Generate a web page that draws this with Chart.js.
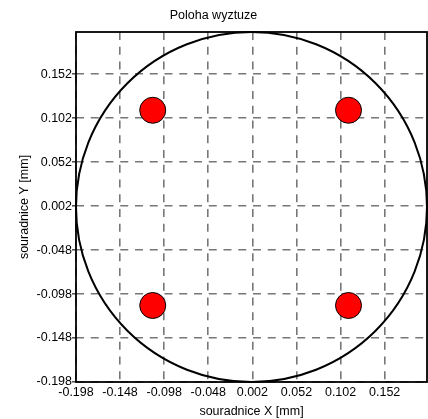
<!DOCTYPE html>
<html>
<head>
<meta charset="utf-8">
<script src="https://cdn.jsdelivr.net/npm/chart.js@4"></script>
<style>
    html, body { margin: 0; padding: 0; background: #fff; }
    #wrap { width: 428px; height: 419px; }
</style>
</head>
<body>
<div id="wrap"><canvas id="chart"></canvas></div>
<script>
// osy
const xTicks = [-0.198, -0.148, -0.098, -0.048, 0.002, 0.052, 0.102, 0.152];
const yTicks = [-0.198, -0.148, -0.098, -0.048, 0.002, 0.052, 0.102, 0.152];
const axisMin = -0.198;
const axisMax = 0.200;

// poloha vyztuze (pruty)
const barX = [-0.111, 0.111, -0.111, 0.111];
const barY = [0.111, 0.111, -0.111, -0.111];

// obrys prurezu
const sectionCenter = [0.001, 0.001];
const sectionRadius = [0.199];

const font = { family: '"Liberation Sans", Arial, sans-serif', size: 12.5 };

// kruh + ramecek
const outlinePlugin = {
    id: 'outline',
    beforeDatasetsDraw(chart) {
        const { ctx, scales: { x, y } } = chart;
        const cx = x.getPixelForValue(sectionCenter[0]);
        const cy = y.getPixelForValue(sectionCenter[1]);
        const rx = Math.abs(x.getPixelForValue(sectionCenter[0] + sectionRadius[0]) - cx);
        const ry = Math.abs(y.getPixelForValue(sectionCenter[1] + sectionRadius[0]) - cy);
        ctx.save();
        ctx.strokeStyle = '#000';
        ctx.lineWidth = 2;
        ctx.beginPath();
        ctx.ellipse(cx, cy, rx, ry, 0, 0, Math.PI * 2);
        ctx.stroke();
        ctx.restore();
    },
    afterDraw(chart) {
        const { ctx, chartArea: a } = chart;
        ctx.save();
        ctx.strokeStyle = '#000';
        ctx.lineWidth = 1.8;
        ctx.strokeRect(a.left, a.top, a.right - a.left, a.bottom - a.top);
        ctx.restore();
    }
};

new Chart(document.getElementById('chart'), {
    type: 'scatter',
    data: {
        datasets: [{
            data: barX.map((v, i) => ({ x: v, y: barY[i] })),
            backgroundColor: '#ff0000',
            borderColor: '#000',
            borderWidth: 1,
            pointRadius: 13,
            pointHoverRadius: 13
        }]
    },
    options: {
        responsive: true,
        maintainAspectRatio: false,
        animation: false,
        layout: { autoPadding: false, padding: { left: 0, right: 1, top: 0, bottom: 0 } },
        scales: {
            x: {
                type: 'linear',
                min: axisMin,
                max: axisMax,
                afterBuildTicks: scale => { scale.ticks = xTicks.map(v => ({ value: v })); },
                afterFit: scale => {
                    scale.height = 37;
                    scale.paddingLeft = 0;
                    scale.paddingRight = 0;
                },
                ticks: {
                    autoSkip: false,
                    maxRotation: 0,
                    padding: 3.5,
                    color: '#000',
                    font: font,
                    callback: v => v.toFixed(3)
                },
                grid: {
                    color: '#777',
                    lineWidth: 1.6,
                    drawTicks: false
                },
                border: { display: false, dash: [8, 6.75] },
                title: {
                    display: true,
                    text: 'souradnice X [mm]',
                    color: '#000',
                    font: font,
                    padding: { top: 0, bottom: 0 }
                }
            },
            y: {
                type: 'linear',
                min: axisMin,
                max: axisMax,
                afterBuildTicks: scale => { scale.ticks = yTicks.map(v => ({ value: v })); },
                afterFit: scale => {
                    scale.width = 76;
                    scale.paddingTop = 0;
                    scale.paddingBottom = 0;
                },
                ticks: {
                    autoSkip: false,
                    padding: 0,
                    color: '#000',
                    font: font,
                    callback: v => v.toFixed(3)
                },
                grid: {
                    color: '#777',
                    lineWidth: 1.6,
                    drawTicks: true,
                    tickLength: 4,
                    tickColor: '#333',
                    tickWidth: 1.3,
                    tickBorderDash: []
                },
                border: { display: false, dash: [8, 6.75] },
                title: {
                    display: true,
                    text: 'souradnice Y [mm]',
                    color: '#000',
                    font: font,
                    padding: { top: 17.5, bottom: 0 }
                }
            }
        },
        plugins: {
            legend: { display: false },
            tooltip: { enabled: false },
            title: {
                display: true,
                text: 'Poloha wyztuze',
                color: '#000',
                font: { family: font.family, size: 12.5, weight: 'normal' },
                padding: { top: 8, bottom: 9 }
            }
        }
    },
    plugins: [outlinePlugin]
});
</script>
</body>
</html>
